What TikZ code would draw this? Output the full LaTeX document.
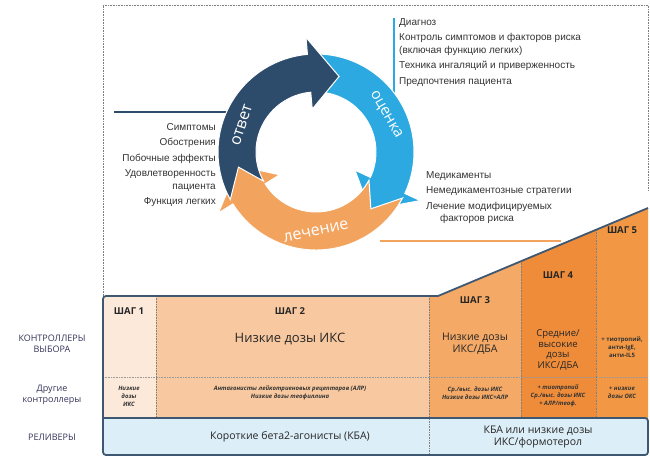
\documentclass[tikz,border=0pt]{standalone}
\usepackage{fontspec}
\setmainfont{Liberation Sans}
\newfontfamily\tfont{Open Sans}
\begin{document}
\begin{tikzpicture}[x=1pt,y=-1pt,
 lst/.style={font=\fontsize{10}{15.5}\selectfont,text=black!80,inner sep=0},
 hd/.style={font=\tfont\bfseries\fontsize{9.5}{11}\selectfont,text=black!85},
 big/.style={font=\tfont\fontsize{10}{12}\selectfont,text=black!85,align=center},
 sm/.style={font=\tfont\bfseries\itshape\fontsize{6}{8}\selectfont,text=black!80,align=center},
 lab/.style={font=\tfont\fontsize{9}{11}\selectfont,text=black!75!blue!60!gray,align=center},
 dsep/.style={densely dotted,black!50,line width=0.6pt},
 ring/.style={draw=white,line width=1pt}]
\useasboundingbox (0,0) rectangle (650,461);
\definecolor{dblue}{HTML}{2D4B6B}
\definecolor{cyanb}{HTML}{2BA9E0}
\definecolor{orng}{HTML}{F2A35E}
\definecolor{tborder}{HTML}{3E5872}
\definecolor{s1}{HTML}{FCE9DA}
\definecolor{s2}{HTML}{F8C9A0}
\definecolor{s3}{HTML}{F4A966}
\definecolor{s4}{HTML}{EF8C3A}
\definecolor{s5}{HTML}{F29845}
\definecolor{rel}{HTML}{DCEEF7}
% dotted frame
\draw[dsep] (103,296) -- (103,5) -- (648,5) -- (648,190);
% connector lines
\coordinate (lA) at (114,112); \coordinate (lB) at (235,112);
\draw[dblue,line width=1.3pt] (lA) -- (lB);
\coordinate (cA) at (394,18); \coordinate (cB) at (394,102);
\draw[cyanb,line width=1.2pt] (cA) -- (cB);
\coordinate (oA) at (380,241); \coordinate (oB) at (561,241);
\draw[orng,line width=1.5pt] (oA) -- (oB);
% cycle
\begin{scope}[shift={(316,152)},yscale=-1]
\def\Ro{98}\def\Ri{60}\def\Rm{79}
\newcommand\seg[3]{\fill[#1,ring] (#2:\Ro) arc[start angle=#2,end angle=#3,radius=\Ro] -- (#3:\Ro+17) -- ({#3-22}:\Rm) -- (#3:\Ri-17) -- (#3:\Ri) arc[start angle=#3,end angle=#2,radius=\Ri] -- ({#2-18}:\Rm) -- cycle;}
\seg{cyanb}{92}{-25}
\seg{orng}{-28}{-148}
\seg{dblue}{209}{95}
\node[text=white,font=\tfont\fontsize{16}{16}\selectfont,rotate=72] (t1) at (160:\Rm) {ответ};
\node[text=white,font=\tfont\fontsize{15}{15}\selectfont,rotate=-60] (t2) at (28:\Rm) {оценка};
\node[text=white,font=\tfont\fontsize{16}{16}\selectfont,rotate=12] (t3) at (-90:\Rm) {лечение};
\end{scope}
% lists
\node[lst,anchor=north west,align=left] (r1) at (399,18) {Диагноз\\Контроль симптомов и факторов риска\\[-3pt](включая функцию легких)\\Техника ингаляций и приверженность\\Предпочтения пациента};
\node[lst,anchor=north east,align=right] (l1) at (216,123) {Симптомы\\Обострения\\Побочные эффекты\\Удовлетворенность\\[-3pt]пациента\\Функция легких};
\node[lst,anchor=north west,align=left] (r2) at (426,171) {Медикаменты\\Немедикаментозные стратегии\\Лечение модифицируемых\\[-3pt]\hspace*{14pt}факторов риска};
% table fills
\fill[s1] (103,296) rectangle (156,418);
\fill[s2] (156,296) rectangle (429,418);
\fill[s3] (429,418) -- (429,296) -- (438,296) -- (521,261) -- (521,418) -- cycle;
\fill[s4] (521,418) -- (521,261) -- (596,230) -- (596,418) -- cycle;
\fill[s5] (596,418) -- (596,230) -- (648,208) -- (648,418) -- cycle;
\fill[rel] (103,418) rectangle (648,455);
\draw[dsep,white!60!black] (103,377) -- (648,377);
\draw[dsep] (156,296) -- (156,418);
\draw[dsep] (429,296) -- (429,455);
\draw[dsep] (521,261) -- (521,418);
\draw[dsep] (596,230) -- (596,418);
\draw[tborder,line width=1.8pt,rounded corners=3pt] (438,296) -- (103,296) -- (103,455) -- (648,455) -- (648,418) -- (103,418);
\draw[tborder,line width=1.8pt] (438,296) -- (648,208);
% table text
\node[hd] (h1) at (129,311) {ШАГ 1};
\node[hd] (h2) at (290,311) {ШАГ 2};
\node[hd] (h3) at (475,300) {ШАГ 3};
\node[hd] (h4) at (558,275) {ШАГ 4};
\node[hd] (h5) at (622,230) {ШАГ 5};
\node[big,font=\tfont\fontsize{13}{15}\selectfont] (b2) at (290,339) {Низкие дозы ИКС};
\node[big,font=\tfont\fontsize{10.5}{12}\selectfont] (b3) at (475,344) {Низкие дозы\\ИКС/ДБА};
\node[big,font=\tfont\fontsize{9.5}{10.5}\selectfont] (b4) at (558,350) {Средние/\\высокие\\дозы\\ИКС/ДБА};
\node[sm,font=\tfont\bfseries\fontsize{6}{8}\selectfont] (b5) at (622,347) {+ тиотропий,\\анти-IgE,\\анти-IL5};
\node[sm] (o1) at (129,396) {Низкие\\дозы\\ИКС};
\node[sm] (o2) at (290,393) {Антагонисты лейкотриеновых рецепторов (АЛР)\\Низкие дозы теофиллина};
\node[sm] (o3) at (475,393) {Ср./выс. дозы ИКС\\Низкие дозы ИКС+АЛР};
\node[sm] (o4) at (558,396) {+ тиотропий\\Ср./выс. дозы ИКС\\+ АЛР/теоф.};
\node[sm] (o5) at (622,393) {+ низкие\\дозы ОКС};
\node[big,font=\tfont\fontsize{10.5}{12}\selectfont] (k1) at (290,437) {Короткие бета2-агонисты (КБА)};
\node[big,font=\tfont\fontsize{10.5}{12}\selectfont] (k2) at (538,437) {КБА или низкие дозы\\ИКС/формотерол};
% left labels
\node[lab] (L1) at (52,344) {КОНТРОЛЛЕРЫ\\ВЫБОРА};
\node[lab] (L2) at (52,395) {Другие\\контроллеры};
\node[lab] (L3) at (52,437) {РЕЛИВЕРЫ};
\end{tikzpicture}
\end{document}
